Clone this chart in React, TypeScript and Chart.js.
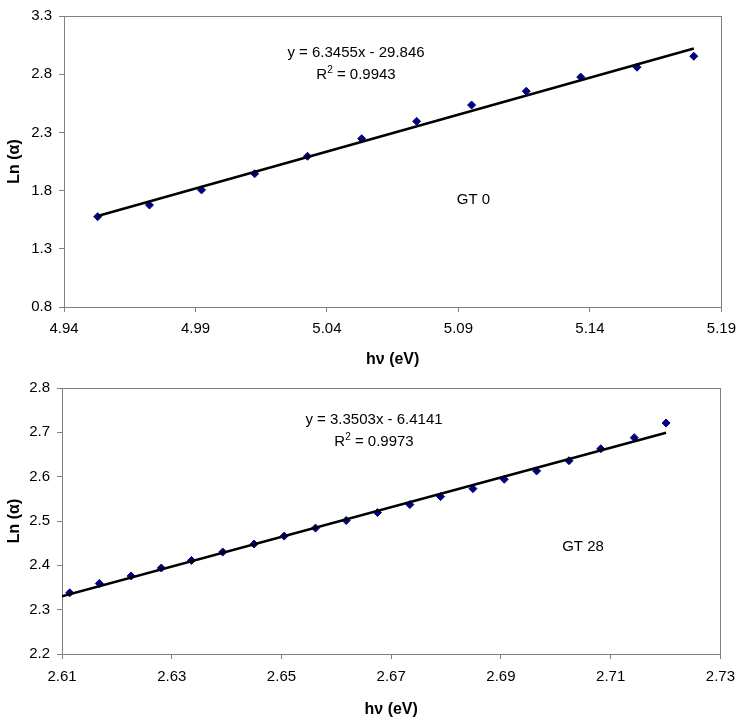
import React, { useEffect, useRef } from "react";
import { Chart, registerables } from "chart.js";

Chart.register(...registerables);

// ---------- Top chart (GT 0) ----------
const topEnergy = [4.9528, 4.9725, 4.9923, 5.0125, 5.0326, 5.0532, 5.0741, 5.095, 5.1158, 5.1365, 5.1579, 5.1795];
const topLnAlpha = [1.576, 1.676, 1.806, 1.945, 2.095, 2.246, 2.395, 2.535, 2.654, 2.775, 2.86, 2.954];
const topSlope = 6.3455;
const topIntercept = -29.846;
const topR2 = "0.9943";
const topXTicks = [4.94, 4.99, 5.04, 5.09, 5.14, 5.19];
const topYTicks = [0.8, 1.3, 1.8, 2.3, 2.8, 3.3];
const topSampleLabel = "GT 0";

// ---------- Bottom chart (GT 28) ----------
const bottomEnergy = [2.6114, 2.6168, 2.6226, 2.6281, 2.6336, 2.6393, 2.645, 2.6505, 2.6562, 2.6618, 2.6675, 2.6734, 2.679, 2.6849, 2.6906, 2.6965, 2.7024, 2.7082, 2.7143, 2.7201];
const bottomLnAlpha = [2.338, 2.359, 2.376, 2.394, 2.411, 2.43, 2.448, 2.466, 2.484, 2.501, 2.519, 2.537, 2.555, 2.573, 2.594, 2.613, 2.636, 2.663, 2.688, 2.721];
const bottomSlope = 3.3503;
const bottomIntercept = -6.4141;
const bottomR2 = "0.9973";
const bottomXTicks = [2.61, 2.63, 2.65, 2.67, 2.69, 2.71, 2.73];
const bottomYTicks = [2.2, 2.3, 2.4, 2.5, 2.6, 2.7, 2.8];
const bottomSampleLabel = "GT 28";

const xTitle = "hν (eV)";
const yTitle = "Ln (α)";

const FONT = "'Liberation Sans', Arial, Helvetica, sans-serif";

type PanelProps = {
  width: number;
  height: number;
  top: number;
  padTop: number;
  padRight: number;
  yWidth: number;
  xHeight: number;
  xTickPad: number;
  xTitlePadBottom: number;
  xs: number[];
  ys: number[];
  slope: number;
  intercept: number;
  r2: string;
  trendFrom: number;
  trendTo: number;
  xTicks: number[];
  yTicks: number[];
  xDec: number;
  yDec: number;
  sampleLabel: string;
  eqPos: { x: number; y: number; y2: number };
  labelPos: { x: number; y: number };
};

function Panel(p: PanelProps) {
  const ref = useRef<HTMLCanvasElement | null>(null);

  useEffect(() => {
    if (!ref.current) return;
    const points = p.xs.map((x, i) => ({ x, y: p.ys[i] }));
    const trend = [p.trendFrom, p.trendTo].map((x) => ({ x, y: p.slope * x + p.intercept }));
    const eqText = `y = ${p.slope}x ${p.intercept < 0 ? "-" : "+"} ${Math.abs(p.intercept)}`;

    const overlay = {
      id: "overlay",
      beforeDatasetsDraw(chart: any) {
        const { ctx, chartArea } = chart;
        ctx.save();
        ctx.strokeStyle = "#808080";
        ctx.lineWidth = 1;
        ctx.strokeRect(
          Math.round(chartArea.left) + 0.5,
          Math.round(chartArea.top) + 0.5,
          Math.round(chartArea.right) - Math.round(chartArea.left),
          Math.round(chartArea.bottom) - Math.round(chartArea.top)
        );
        ctx.restore();
      },
      afterDraw(chart: any) {
        const { ctx } = chart;
        ctx.save();
        ctx.fillStyle = "#000";
        ctx.textBaseline = "middle";
        ctx.font = `15px ${FONT}`;
        ctx.textAlign = "center";
        ctx.fillText(eqText, p.eqPos.x, p.eqPos.y);
        ctx.fillText(p.sampleLabel, p.labelPos.x, p.labelPos.y);
        // R² line
        ctx.textAlign = "left";
        const rest = ` = ${p.r2}`;
        const wR = ctx.measureText("R").width;
        const wRest = ctx.measureText(rest).width;
        ctx.font = `10px ${FONT}`;
        const w2 = ctx.measureText("2").width;
        const total = wR + w2 + wRest;
        let x0 = p.eqPos.x - total / 2;
        ctx.font = `15px ${FONT}`;
        ctx.fillText("R", x0, p.eqPos.y2);
        ctx.font = `10px ${FONT}`;
        ctx.fillText("2", x0 + wR, p.eqPos.y2 - 5);
        ctx.font = `15px ${FONT}`;
        ctx.fillText(rest, x0 + wR + w2, p.eqPos.y2);
        ctx.restore();
      },
    };

    const tickFont = { family: FONT, size: 15 };
    const titleFont = { family: FONT, size: 16, weight: "bold" as const };

    const chart = new Chart(ref.current, {
      type: "scatter",
      data: {
        datasets: [
          {
            type: "line",
            data: trend,
            borderColor: "#000000",
            borderWidth: 2.5,
            pointRadius: 0,
            fill: false,
            tension: 0,
          } as any,
          {
            data: points,
            pointStyle: "rectRot",
            pointRadius: 4,
            pointBackgroundColor: "#000080",
            pointBorderColor: "#000080",
            pointBorderWidth: 1,
            showLine: false,
          },
        ],
      },
      options: {
        responsive: false,
        animation: false,
        devicePixelRatio: 1,
        events: [],
        layout: { padding: { top: p.padTop, right: p.padRight, left: 0, bottom: 0 } },
        plugins: { legend: { display: false }, tooltip: { enabled: false } },
        scales: {
          x: {
            type: "linear",
            position: "bottom",
            min: p.xTicks[0],
            max: p.xTicks[p.xTicks.length - 1],
            afterBuildTicks: (s: any) => {
              s.ticks = p.xTicks.map((v) => ({ value: v }));
            },
            afterFit: (s: any) => {
              s.height = p.xHeight;
            },
            ticks: {
              callback: (v: any) => Number(v).toFixed(p.xDec),
              font: tickFont,
              color: "#000",
              padding: p.xTickPad,
              maxRotation: 0,
              autoSkip: false,
            },
            grid: { display: true, drawOnChartArea: false, drawTicks: true, tickLength: 5, color: "#808080" },
            border: { display: false },
            title: {
              display: true,
              text: xTitle,
              font: titleFont,
              color: "#000",
              padding: { top: 0, bottom: p.xTitlePadBottom },
            },
          },
          y: {
            type: "linear",
            min: p.yTicks[0],
            max: p.yTicks[p.yTicks.length - 1],
            afterBuildTicks: (s: any) => {
              s.ticks = p.yTicks.map((v) => ({ value: v }));
            },
            afterFit: (s: any) => {
              s.width = p.yWidth;
            },
            ticks: {
              callback: (v: any) => Number(v).toFixed(p.yDec),
              font: tickFont,
              color: "#000",
              padding: 7,
              autoSkip: false,
            },
            grid: { display: true, drawOnChartArea: false, drawTicks: true, tickLength: 5, color: "#808080" },
            border: { display: false },
            title: {
              display: true,
              text: yTitle,
              font: titleFont,
              color: "#000",
              padding: { top: 5, bottom: 0 },
            },
          },
        },
      },
      plugins: [overlay],
    } as any);

    return () => chart.destroy();
  }, []);

  return (
    <canvas
      ref={ref}
      width={p.width}
      height={p.height}
      style={{ position: "absolute", left: 0, top: p.top, width: p.width, height: p.height, display: "block" }}
    />
  );
}

export default function App() {
  return (
    <div style={{ position: "absolute", left: 0, top: 0, width: 744, height: 725, background: "#fff" }}>
      <Panel
        width={744}
        height={372}
        top={0}
        padTop={13}
        padRight={18}
        yWidth={64}
        xHeight={65}
        xTickPad={8}
        xTitlePadBottom={2.4}
        xs={topEnergy}
        ys={topLnAlpha}
        slope={topSlope}
        intercept={topIntercept}
        r2={topR2}
        trendFrom={topEnergy[0]}
        trendTo={topEnergy[topEnergy.length - 1]}
        xTicks={topXTicks}
        yTicks={topYTicks}
        xDec={2}
        yDec={1}
        sampleLabel={topSampleLabel}
        eqPos={{ x: 356, y: 53, y2: 75 }}
        labelPos={{ x: 473.5, y: 200 }}
      />
      <Panel
        width={744}
        height={353}
        top={372}
        padTop={8}
        padRight={22}
        yWidth={62}
        xHeight={71}
        xTickPad={9}
        xTitlePadBottom={5.4}
        xs={bottomEnergy}
        ys={bottomLnAlpha}
        slope={bottomSlope}
        intercept={bottomIntercept}
        r2={bottomR2}
        trendFrom={bottomXTicks[0]}
        trendTo={bottomEnergy[bottomEnergy.length - 1]}
        xTicks={bottomXTicks}
        yTicks={bottomYTicks}
        xDec={2}
        yDec={1}
        sampleLabel={bottomSampleLabel}
        eqPos={{ x: 374, y: 48, y2: 70 }}
        labelPos={{ x: 583, y: 175 }}
      />
    </div>
  );
}
